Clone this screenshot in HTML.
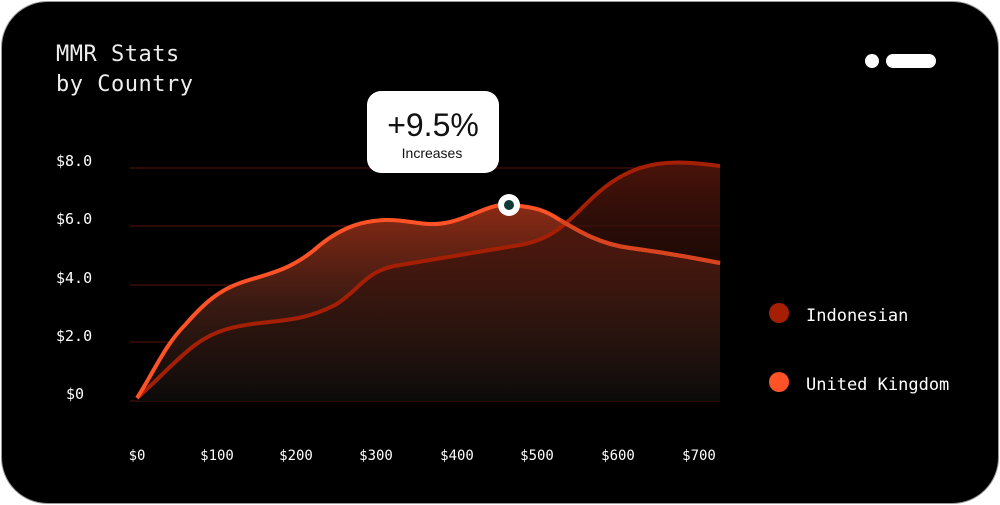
<!DOCTYPE html>
<html><head><meta charset="utf-8"><style>
html,body{margin:0;padding:0;background:#fff;}
svg{display:block;}
.mono{font-family:"DejaVu Sans Mono","Liberation Mono",monospace;}
</style></head><body>
<svg width="1000" height="505" viewBox="0 0 1000 505" xmlns="http://www.w3.org/2000/svg">
<defs>
<linearGradient id="g1" x1="0" y1="0" x2="0" y2="1">
<stop offset="0" stop-color="#8a2a14"/><stop offset="0.5" stop-color="#3a1a12"/><stop offset="1" stop-color="#0b0b0a"/>
</linearGradient>
<linearGradient id="g2" x1="0" y1="0" x2="0" y2="1">
<stop offset="0" stop-color="#4a130a"/><stop offset="1" stop-color="#120c0a" stop-opacity="0"/>
</linearGradient>
</defs>
<rect x="1.5" y="1.5" width="997" height="502" rx="46" fill="#000" stroke="#999" stroke-width="1"/>
<text x="56" y="61" class="mono" font-size="22" letter-spacing="0.5" fill="#eee">MMR Stats</text>
<text x="56" y="91" class="mono" font-size="22" letter-spacing="0.5" fill="#eee">by Country</text>
<circle cx="872" cy="61" r="7" fill="#fff"/>
<rect x="886" y="54" width="50" height="14" rx="7" fill="#fff"/>
<g stroke="#5a130a" stroke-width="1">
<line x1="130" y1="168" x2="720" y2="168"/><line x1="130" y1="226" x2="720" y2="226"/>
<line x1="130" y1="285" x2="720" y2="285"/><line x1="130" y1="342" x2="720" y2="342"/>
<line x1="130" y1="401" x2="720" y2="401"/>
</g>
<g class="mono" font-size="15" fill="#fff">
<text x="56" y="166">$8.0</text><text x="56" y="224">$6.0</text><text x="56" y="283">$4.0</text>
<text x="56" y="341">$2.0</text><text x="66" y="399">$0</text>
</g>
<g class="mono" font-size="14" fill="#fff" text-anchor="middle">
<text x="137" y="460">$0</text><text x="217" y="460">$100</text><text x="296" y="460">$200</text><text x="376" y="460">$300</text>
<text x="457" y="460">$400</text><text x="537" y="460">$500</text><text x="618" y="460">$600</text><text x="699" y="460">$700</text>
</g>
<path d="M137,398 C155,370 165,345 185,325 C205,302 220,290 240,283 C265,274 290,272 320,245 C345,225 365,221 385,220 C410,219 425,228 450,222 C475,216 490,203 510,205 C535,207 545,210 560,220 C580,232 600,244 630,248 C660,252 690,257 720,263 L720,401 L137,401 Z" fill="url(#g1)"/>
<path d="M137,398 C160,378 175,360 195,345 C215,330 235,326 260,323 C290,320 310,318 335,305 C360,290 365,270 400,265 C440,258 480,252 520,245 C550,240 565,225 585,205 C605,185 620,175 640,168 C665,160 690,162 720,166 L720,401 L600,401 Z" fill="url(#g2)"/>
<path d="M137,398 C160,378 175,360 195,345 C215,330 235,326 260,323 C290,320 310,318 335,305 C360,290 365,270 400,265 C440,258 480,252 520,245 C550,240 565,225 585,205 C605,185 620,175 640,168 C665,160 690,162 720,166" fill="none" stroke="#a51f05" stroke-width="4"/>
<path d="M137,398 C155,370 165,345 185,325 C205,302 220,290 240,283 C265,274 290,272 320,245 C345,225 365,221 385,220 C410,219 425,228 450,222 C475,216 490,203 510,205 C535,207 545,210 560,220 C580,232 600,244 630,248 C660,252 690,257 720,263" fill="none" stroke="#ff5226" stroke-width="4"/>
<path d="M560,220 C580,232 600,244 630,248 C660,252 690,257 720,263" fill="none" stroke="#d8441f" stroke-width="4"/>
<circle cx="509" cy="205" r="11" fill="#fff"/>
<circle cx="509" cy="205" r="5" fill="#0e3a36"/>
<rect x="367" y="91" width="132" height="82" rx="14" fill="#fff"/>
<text x="433" y="136" text-anchor="middle" font-family="Liberation Sans, sans-serif" font-size="32" fill="#111">+9.5%</text>
<text x="432" y="158" text-anchor="middle" font-family="Liberation Sans, sans-serif" font-size="14" fill="#111">Increases</text>
<circle cx="779" cy="313" r="10" fill="#a51f05"/>
<circle cx="779" cy="382" r="10" fill="#ff5226"/>
<text x="806" y="321" class="mono" font-size="17" fill="#fff">Indonesian</text>
<text x="806" y="390" class="mono" font-size="17" fill="#fff">United Kingdom</text>
</svg>
</body></html>
